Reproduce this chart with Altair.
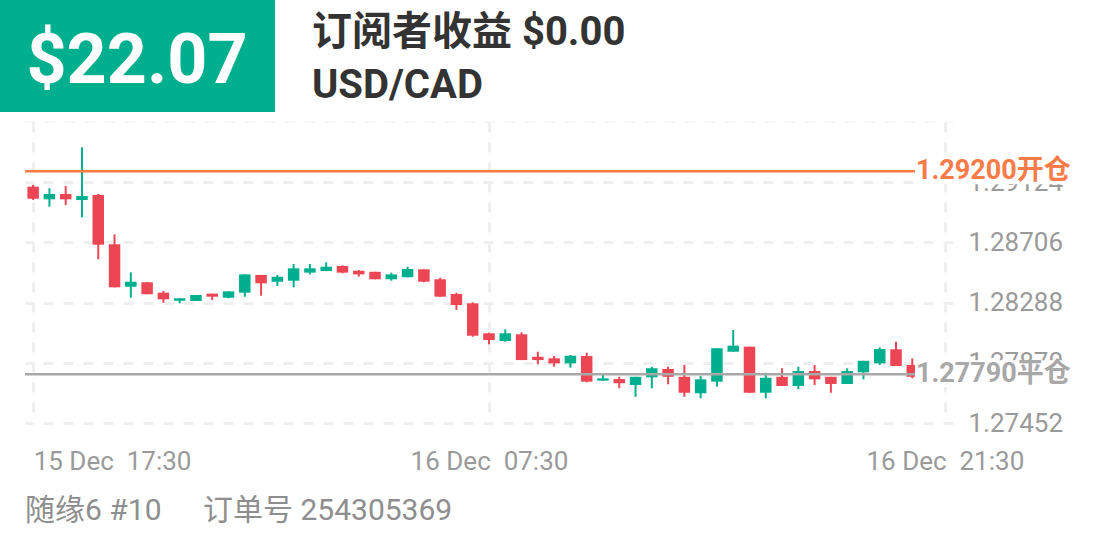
import altair as alt
import pandas as pd

# ---------------- data ----------------
opens = [1.29093, 1.29005, 1.29042, 1.29000, 1.29035, 1.28693, 1.28398, 1.28429, 1.28357, 1.28301,
         1.28299, 1.28350, 1.28322, 1.28357, 1.28480, 1.28433, 1.28440, 1.28496, 1.28507, 1.28542,
         1.28509, 1.28502, 1.28450, 1.28464, 1.28519, 1.28450, 1.28348, 1.28283, 1.28075, 1.28021,
         1.28068, 1.27912, 1.27901, 1.27866, 1.27917, 1.27746, 1.27757, 1.27716, 1.27769, 1.27827,
         1.27773, 1.27658, 1.27739, 1.27947, 1.27982, 1.27662, 1.27773, 1.27709, 1.27813, 1.27773,
         1.27723, 1.27804, 1.27866, 1.27964, 1.27855]
highs = [1.29105, 1.29082, 1.29098, 1.29366, 1.29042, 1.28762, 1.28498, 1.28429, 1.28369, 1.28318,
         1.28341, 1.28350, 1.28366, 1.28484, 1.28480, 1.28480, 1.28556, 1.28556, 1.28568, 1.28547,
         1.28514, 1.28502, 1.28496, 1.28537, 1.28519, 1.28461, 1.28357, 1.28290, 1.28079, 1.28102,
         1.28082, 1.27947, 1.27917, 1.27924, 1.27940, 1.27797, 1.27773, 1.27773, 1.27843, 1.27843,
         1.27855, 1.27778, 1.27971, 1.28098, 1.27982, 1.27801, 1.27832, 1.27843, 1.27855, 1.27773,
         1.27832, 1.27884, 1.27977, 1.28016, 1.27901]
lows = [1.29000, 1.28954, 1.28966, 1.28880, 1.28589, 1.28394, 1.28322, 1.28346, 1.28287, 1.28283,
        1.28299, 1.28306, 1.28318, 1.28329, 1.28336, 1.28403, 1.28394, 1.28484, 1.28507, 1.28491,
        1.28468, 1.28450, 1.28440, 1.28464, 1.28429, 1.28329, 1.28237, 1.28051, 1.27998, 1.28016,
        1.27889, 1.27859, 1.27843, 1.27836, 1.27735, 1.27746, 1.27693, 1.27634, 1.27693, 1.27721,
        1.27634, 1.27623, 1.27704, 1.27947, 1.27662, 1.27623, 1.27709, 1.27686, 1.27716, 1.27662,
        1.27723, 1.27755, 1.27855, 1.27848, 1.27762]
closes = [1.29009, 1.29042, 1.29005, 1.29028, 1.28690, 1.28394, 1.28433, 1.28346, 1.28311, 1.28318,
          1.28341, 1.28329, 1.28366, 1.28484, 1.28422, 1.28468, 1.28526, 1.28526, 1.28537, 1.28496,
          1.28484, 1.28450, 1.28484, 1.28521, 1.28433, 1.28329, 1.28271, 1.28058, 1.28028, 1.28075,
          1.27889, 1.27889, 1.27866, 1.27919, 1.27739, 1.27762, 1.27728, 1.27773, 1.27832, 1.27773,
          1.27662, 1.27755, 1.27971, 1.27989, 1.27662, 1.27766, 1.27709, 1.27813, 1.27755, 1.27723,
          1.27813, 1.27884, 1.27966, 1.27848, 1.27773]

y_ticks = [1.27452, 1.27870, 1.28288, 1.28706, 1.29124]
y_top = 1.29542
x_tick_pos = [0, 28, 56]
x_tick_labels = ["15 Dec\u00a0 17:30", "16 Dec\u00a0 07:30", "16 Dec\u00a0 21:30"]

open_price = [1.29200]
open_label = ["1.29200开仓"]
close_price = [1.27790]
close_label = ["1.27790平仓"]

profit_text = "$22.07"
title_text = "订阅者收益 $0.00"
symbol_text = "USD/CAD"
footer_left = "随缘6 #10"
footer_right = "订单号 254305369"

# ---------------- styling ----------------
GREEN = "#00af8e"
RED = "#ec4654"
ORANGE = "#f97c48"
GRAY_LINE = "#a8a8a8"
FONT = "Roboto, 'Noto Sans CJK SC', sans-serif"
W, H = 928, 301

df = pd.DataFrame({"i": list(range(len(opens))), "open": opens, "high": highs,
                   "low": lows, "close": closes})
df["dir"] = ["up" if c >= o else "down" for o, c in zip(opens, closes)]

xscale = alt.Scale(domain=[-0.5, 56.5], nice=False, zero=False, padding=0)
yscale = alt.Scale(domain=[y_ticks[0], y_top], nice=False, zero=False, padding=0)

label_expr = " : ".join(
    f"datum.value == {p} ? '{t}'" for p, t in zip(x_tick_pos[:-1], x_tick_labels[:-1])
) + f" : '{x_tick_labels[-1]}'"

x_axis = alt.Axis(values=x_tick_pos, labelExpr=label_expr, title=None, domain=False,
                  ticks=False, tickSize=0, grid=True, gridDash=[10, 10], gridWidth=3,
                  gridColor="#efefef", labelFont=FONT, labelFontSize=26, labelColor="#9a9a9a",
                  labelBaseline="alphabetic", labelPadding=46, labelFlush=False,
                  labelAlign={"condition": {"test": "datum.value == 0", "value": "left"},
                              "value": "center"})
y_axis = alt.Axis(values=y_ticks, format=".5f", orient="right", title=None, domain=False,
                  ticks=False, tickSize=0, grid=True, gridDash=[10, 10], gridWidth=3,
                  gridColor="#efefef", labelFont=FONT, labelFontSize=26, labelColor="#9a9a9a",
                  labelPadding=15, labelAlign="left")

color = alt.Color("dir:N", scale=alt.Scale(domain=["up", "down"], range=[GREEN, RED]), legend=None)

wicks = alt.Chart(df).mark_rule(strokeWidth=2).encode(
    x=alt.X("i:Q", scale=xscale, axis=x_axis),
    y=alt.Y("low:Q", scale=yscale, axis=y_axis),
    y2="high:Q",
    color=color,
)
bodies = alt.Chart(df).mark_bar(size=11.5).encode(
    x=alt.X("i:Q", scale=xscale, axis=x_axis),
    y=alt.Y("open:Q", scale=yscale, axis=y_axis),
    y2="close:Q",
    color=color,
)

top_df = pd.DataFrame({"p": [y_top]})
top_border = alt.Chart(top_df).mark_rule(strokeWidth=1, color="#efefef", strokeDash=[10, 10]).encode(
    y=alt.Y("p:Q", scale=yscale, axis=y_axis), x=alt.value(0), x2=alt.value(W))

def level(prices, labels, col):
    d = pd.DataFrame({"p": prices, "t": labels})
    d["hi"] = d["p"] + 0.00097
    d["lo"] = d["p"] - 0.00090
    line = alt.Chart(d).mark_rule(strokeWidth=2.5, color=col).encode(
        y=alt.Y("p:Q", scale=yscale, axis=y_axis), x=alt.value(0), x2=alt.value(891))
    box = alt.Chart(d).mark_rect(color="white").encode(
        y=alt.Y("hi:Q", scale=yscale, axis=y_axis), y2="lo:Q", x=alt.value(890), x2=alt.value(1046))
    txt = alt.Chart(d).mark_text(align="left", baseline="alphabetic", dy=8, font=FONT,
                                 fontSize=27, fontWeight="bold", color=col).encode(
        y=alt.Y("p:Q", scale=yscale, axis=y_axis), x=alt.value(891), text="t:N")
    return [line, box, txt]

def label(txt, x, y, size, col, weight="normal", align="left"):
    return alt.Chart(pd.DataFrame({"t": [txt]})).mark_text(
        align=align, baseline="alphabetic", font=FONT, fontSize=size, fontWeight=weight,
        color=col).encode(x=alt.value(x), y=alt.value(y), text="t:N")

header_box = alt.Chart(pd.DataFrame({"t": [profit_text]})).mark_rect(color=GREEN).encode(
    x=alt.value(-25), x2=alt.value(250), y=alt.value(-122), y2=alt.value(-10))

layers = [top_border, wicks, bodies] + level(open_price, open_label, ORANGE) + \
    level(close_price, close_label, GRAY_LINE) + [
    header_box,
    label(profit_text, 112, -39, 70, "white", "bold", "center"),
    label(title_text, 287, -77, 40, "#333333", "bold"),
    label(symbol_text, 287, -24, 40, "#333333", "bold"),
    label(footer_left, 0, 398, 30, "#8e8e8e"),
    label(footer_right, 178, 398, 30, "#8e8e8e"),
]

chart = alt.layer(*layers).properties(
    width=W, height=H,
    autosize=alt.AutoSizeParams(type="none"),
    padding={"left": 25, "top": 122, "right": 155, "bottom": 131},
    background="white",
).configure_view(stroke=None)

chart.save("out.html", embed_options={"renderer": "svg", "actions": False})
